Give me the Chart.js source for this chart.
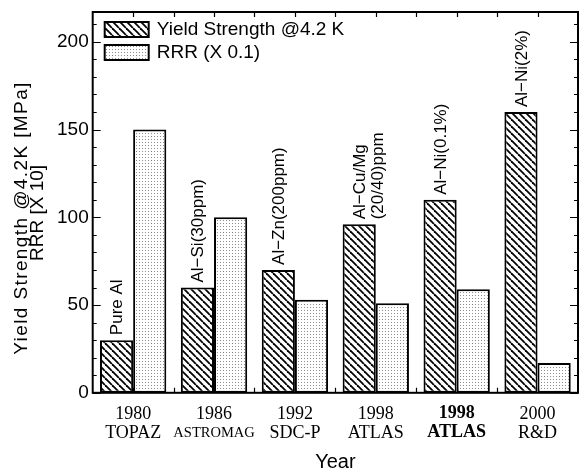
<!DOCTYPE html>
<html>
<head>
<meta charset="utf-8">
<script src="https://cdn.jsdelivr.net/npm/chart.js@4.4.0/dist/chart.umd.min.js"></script>
<style>
  html, body { margin: 0; padding: 0; background: #fff; }
</style>
</head>
<body>
<canvas id="YieldChart" width="579" height="470"></canvas>
<script>
(function () {
  "use strict";

  // Data
  const years         = ['1980', '1986', '1992', '1998', '1998', '2000'];
  const projects      = ['TOPAZ', 'ASTROMAG', 'SDC-P', 'ATLAS', 'ATLAS', 'R&D'];
  const alloys        = [['Pure Al'], ['Al\u2212Si(30ppm)'], ['Al\u2212Zn(200ppm)'], ['Al\u2212Cu/Mg', '(20/40)ppm'], ['Al\u2212Ni(0.1%)'], ['Al\u2212Ni(2%)']];
  const yieldStrength = [30, 60, 70, 96, 110, 160];
  const rrr           = [150, 100, 53, 51, 59, 17];
  const legendLabels  = ['Yield Strength @4.2 K', 'RRR (X 0.1)'];
  const yTitle        = ['Yield Strength @4.2K [MPa]', 'RRR [X 10]'];

  const sans  = '"Liberation Sans", Arial, sans-serif';
  const serif = '"Liberation Serif", "Times New Roman", serif';

  // Fill patterns
  function hatchPattern(ctx) {
    const s = 7;
    const c = document.createElement('canvas');
    c.width = s; c.height = s;
    const p = c.getContext('2d');
    p.fillStyle = '#fff';
    p.fillRect(0, 0, s, s);
    p.strokeStyle = '#000';
    p.lineWidth = 1.8;
    for (let k = -1; k <= 1; k++) {
      p.beginPath();
      p.moveTo(k * s, 0);
      p.lineTo(k * s + s, s);
      p.stroke();
    }
    return ctx.createPattern(c, 'repeat');
  }

  function dotPattern(ctx) {
    const c = document.createElement('canvas');
    c.width = 3; c.height = 3;
    const p = c.getContext('2d');
    p.fillStyle = '#fff';
    p.fillRect(0, 0, 3, 3);
    p.fillStyle = '#8c8c8c';
    p.fillRect(1, 1, 1, 1);
    return ctx.createPattern(c, 'repeat');
  }

  // Frame, inward ticks, labels, legend
  const decorations = {
    id: 'decorations',
    afterDraw(chart) {
      const ctx = chart.ctx;
      const area = chart.chartArea;
      const xs = chart.scales.x;
      const ys = chart.scales.y;

      ctx.save();

      // texts above the hatched bars
      const meta = chart.getDatasetMeta(0);
      ctx.fillStyle = '#000';
      ctx.font = '17px ' + sans;
      ctx.textAlign = 'left';
      ctx.textBaseline = 'middle';
      meta.data.forEach(function (bar, i) {
        const lines = alloys[i];
        lines.forEach(function (line, j) {
          ctx.save();
          ctx.translate(bar.x + 1 + j * 18, bar.y - 5);
          ctx.rotate(-Math.PI / 2);
          ctx.fillText(line, 0, 0);
          ctx.restore();
        });
      });

      // frame
      ctx.strokeStyle = '#000';
      ctx.lineWidth = 2;
      ctx.strokeRect(area.left, area.top, area.right - area.left, area.bottom - area.top);

      // y ticks, both sides
      ctx.lineWidth = 1.2;
      ctx.beginPath();
      for (let v = 0; v <= ys.max; v += 10) {
        const y = Math.round(ys.getPixelForValue(v)) + 0.5;
        const len = v % 50 === 0 ? 8 : 4;
        ctx.moveTo(area.left, y);
        ctx.lineTo(area.left + len, y);
        ctx.moveTo(area.right, y);
        ctx.lineTo(area.right - len, y);
      }
      // x ticks at centres and boundaries, top and bottom
      const step = xs.getPixelForValue(1) - xs.getPixelForValue(0);
      for (let i = 0; i < years.length; i++) {
        const c = xs.getPixelForValue(i);
        [c - step / 2, c].forEach(function (x) {
          if (x <= area.left + 2) return;
          x = Math.round(x) + 0.5;
          ctx.moveTo(x, area.top);
          ctx.lineTo(x, area.top + 5);
          ctx.moveTo(x, area.bottom);
          ctx.lineTo(x, area.bottom - 5);
        });
      }
      ctx.stroke();

      // x labels
      ctx.textAlign = 'center';
      ctx.textBaseline = 'middle';
      for (let i = 0; i < years.length; i++) {
        const x = xs.getPixelForValue(i);
        const bold = i === 4 ? 'bold ' : '';
        ctx.font = bold + '18px ' + serif;
        ctx.fillText(years[i], x, area.bottom + 21);
        ctx.font = bold + (projects[i] === 'ASTROMAG' ? '14.5px ' : '18px ') + serif;
        ctx.fillText(projects[i], x, area.bottom + 40);
      }

      // y title
      ctx.font = '19px ' + sans;
      ctx.save();
      ctx.translate(22, 218);
      ctx.rotate(-Math.PI / 2);
      ctx.letterSpacing = '1.4px';
      ctx.fillText(yTitle[0], 0, 0);
      ctx.letterSpacing = '0px';
      ctx.fillText(yTitle[1], 5, 16);
      ctx.restore();

      // legend
      const fills = [chart.data.datasets[0].backgroundColor, chart.data.datasets[1].backgroundColor];
      ctx.font = '19px ' + sans;
      ctx.textAlign = 'left';
      legendLabels.forEach(function (label, i) {
        const bx = area.left + 12;
        const by = area.top + 10 + i * 23;
        ctx.fillStyle = fills[i];
        ctx.fillRect(bx, by, 44, 15);
        ctx.lineWidth = 2;
        ctx.strokeRect(bx, by, 44, 15);
        ctx.fillStyle = '#000';
        ctx.fillText(label, bx + 52, by + 8);
      });

      ctx.restore();
    }
  };

  const myChart = function () {
    const el = document.getElementById('YieldChart');
    if (el == null) return;
    const ctx = el.getContext('2d');

    new Chart(ctx, {
      type: 'bar',
      data: {
        labels: years,
        datasets: [{
          label: legendLabels[0],
          data: yieldStrength,
          backgroundColor: hatchPattern(ctx),
          borderColor: '#000',
          borderWidth: 2,
          borderSkipped: false
        },
        {
          label: legendLabels[1],
          data: rrr,
          backgroundColor: dotPattern(ctx),
          borderColor: '#000',
          borderWidth: 2,
          borderSkipped: false
        }]
      },
      plugins: [decorations],
      options: {
        responsive: false,
        animation: false,
        categoryPercentage: 0.82,
        barPercentage: 1,
        layout: {
          padding: { top: 12, right: 1, left: 53, bottom: 0 }
        },
        plugins: {
          legend: { display: false },
          tooltip: { enabled: false }
        },
        scales: {
          x: {
            offset: true,
            grid: { display: false, drawTicks: false, tickLength: 0 },
            border: { display: false },
            ticks: {
              color: 'rgba(0,0,0,0)',
              font: { family: serif, size: 18 },
              padding: 3,
              maxRotation: 0,
              autoSkip: false,
              callback: function (v, i) { return [years[i], projects[i]]; }
            },
            title: {
              display: true,
              text: 'Year',
              color: '#000',
              font: { family: sans, size: 20, lineHeight: 0.8 },
              padding: { top: 12, bottom: 0 }
            }
          },
          y: {
            min: 0,
            max: 217,
            afterFit: function (scale) { scale.paddingTop = 0; },
            grid: { display: false, drawTicks: false, tickLength: 0 },
            border: { display: false },
            ticks: {
              stepSize: 50,
              includeBounds: false,
              color: '#000',
              padding: 4,
              font: { family: sans, size: 19 }
            }
          }
        }
      }
    });
  };

  myChart();

})();
</script>
</body>
</html>
